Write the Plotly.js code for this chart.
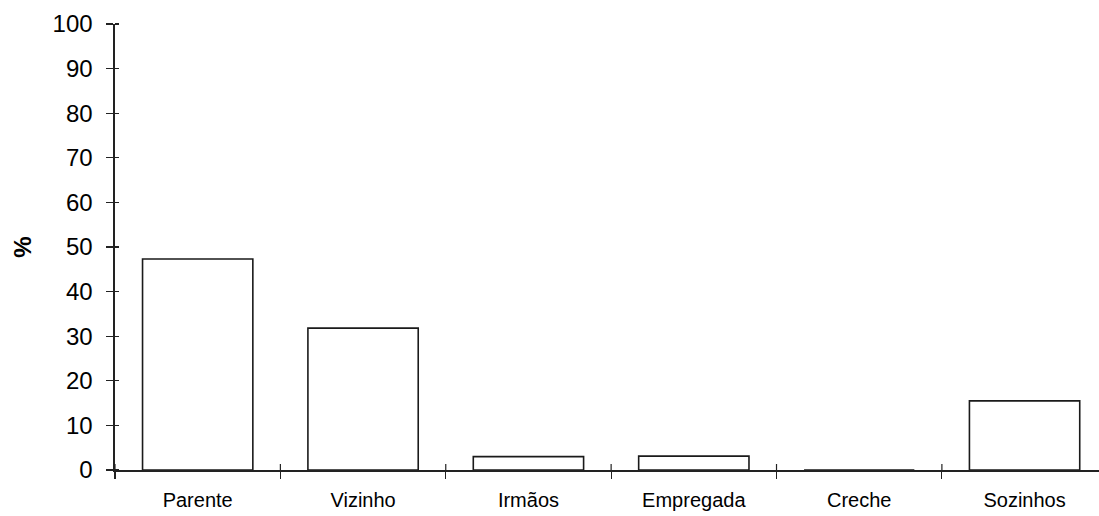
<!DOCTYPE html>
<html>
<head>
<meta charset="utf-8">
<script src="https://cdn.plot.ly/plotly-3.0.1.min.js"></script>
<style>html,body{margin:0;padding:0;background:#fff;}#chart{width:1099px;height:516px;}</style>
</head>
<body>
<div id="chart"></div>
<script>
const categories = ["Parente", "Vizinho", "Irmãos", "Empregada", "Creche", "Sozinhos"];
const values = [47.3, 31.8, 3.0, 3.1, 0, 15.5];
const yTickValues = [0, 10, 20, 30, 40, 50, 60, 70, 80, 90, 100];
const yTitle = "%";

const barTrace = {
  type: "bar",
  x: categories,
  y: values,
  marker: {color: "#ffffff", line: {color: "#1a1a1a", width: 1.6}},
  width: 0.667,
  hovertemplate: "%{x}: %{y}<extra></extra>",
  showlegend: false
};

// short upward halves of the category-boundary ticks (ticks cross the axis)
const boundaries = categories.map((_, i) => i - 0.5);
const tickNubs = boundaries.map(b => ({
  type: "line", xref: "x", yref: "y",
  ysizemode: "pixel", yanchor: 0,
  x0: b, x1: b, y0: 0, y1: 6,
  line: {color: "#222", width: 1.2},
  layer: "above"
}));

const font = "Arial, 'Liberation Sans', sans-serif";
const layout = {
  width: 1099,
  height: 516,
  margin: {l: 115, r: 0, t: 24, b: 46},
  paper_bgcolor: "#ffffff",
  plot_bgcolor: "#ffffff",
  showlegend: false,
  font: {family: font, color: "#000"},
  shapes: tickNubs,
  xaxis: {
    type: "category",
    range: [-0.5, 5.45],
    tickson: "boundaries",
    ticks: "outside",
    ticklen: 7,
    tickwidth: 1.2,
    tickcolor: "#222",
    showline: true,
    linecolor: "#222",
    linewidth: 1.6,
    showgrid: false,
    zeroline: false,
    tickfont: {family: font, size: 20, color: "#000"},
    ticklabelstandoff: 11,
    fixedrange: true
  },
  yaxis: {
    range: [0, 100],
    tickvals: yTickValues,
    ticks: "outside",
    ticklen: 7,
    tickwidth: 1.2,
    tickcolor: "#222",
    minor: {tickvals: yTickValues, ticks: "inside", ticklen: 4, tickwidth: 1.2, tickcolor: "#222", showgrid: false},
    showline: true,
    linecolor: "#222",
    linewidth: 1.6,
    showgrid: false,
    zeroline: false,
    tickfont: {family: font, size: 24, color: "#000"},
    ticklabelstandoff: 9,
    title: {text: yTitle, font: {family: font, size: 24, color: "#000", weight: "bold"}, standoff: 14},
    automargin: false,
    fixedrange: true
  }
};

Plotly.newPlot("chart", [barTrace], layout, {displayModeBar: false, staticPlot: true});
</script>
</body>
</html>
